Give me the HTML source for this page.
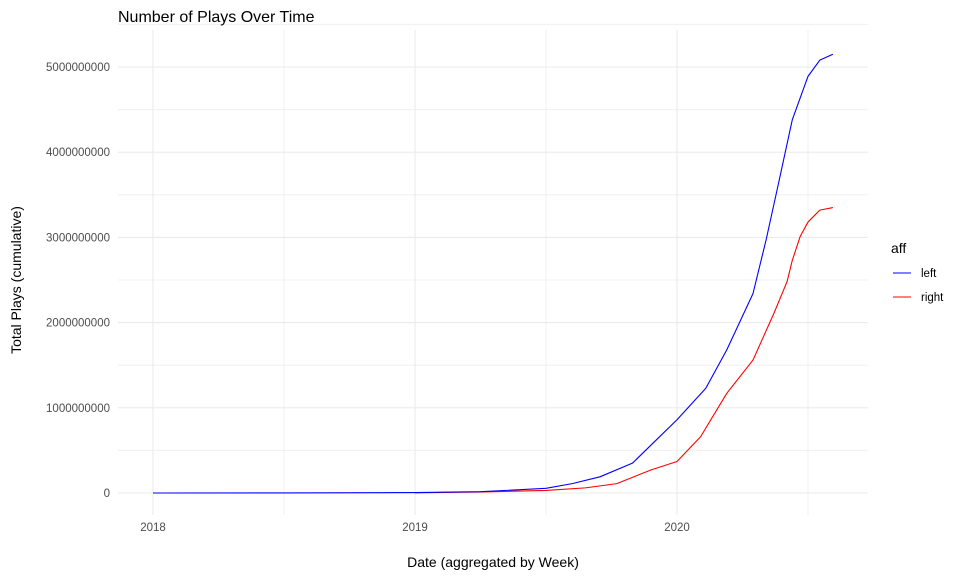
<!DOCTYPE html>
<html><head><meta charset="utf-8"><style>
body{margin:0;background:#fff;font-family:"Liberation Sans",sans-serif}
svg text{font-family:"Liberation Sans",sans-serif}
</style></head><body>
<svg id="c" width="960" height="576"></svg>
<script>
const years=[2018,2019,2020];
const yTicks=[0,1e9,2e9,3e9,4e9,5e9];
const yTickLabels=["0","1000000000","2000000000","3000000000","4000000000","5000000000"];
const leftDates=[2018.0,2018.5,2019.0,2019.25,2019.5,2019.6,2019.706,2019.83,2019.92,2020.0,2020.11,2020.19,2020.29,2020.34,2020.39,2020.44,2020.5,2020.545,2020.595];
const leftVals=[0,0.001,0.005,0.015,0.055,0.11,0.19,0.35,0.62,0.86,1.23,1.68,2.34,2.97,3.67,4.38,4.89,5.08,5.15];
const rightDates=[2019.0,2019.25,2019.5,2019.65,2019.77,2019.9,2020.0,2020.09,2020.19,2020.29,2020.37,2020.42,2020.44,2020.47,2020.5,2020.545,2020.595];
const rightVals=[0.002,0.012,0.03,0.06,0.11,0.27,0.37,0.66,1.17,1.56,2.11,2.48,2.73,3.01,3.18,3.32,3.35];
const NS="http://www.w3.org/2000/svg";
const svg=document.getElementById('c');
const X=d=>153+(d-2018)*262;
const Y=v=>493-v/1e9*85.2;
function mk(tag,attrs,parent){const e=document.createElementNS(NS,tag);for(const k in attrs)e.setAttribute(k,attrs[k]);(parent||svg).appendChild(e);return e;}
for(let i=0;i<yTicks.length;i++){const v=yTicks[i]+5e8;
  const g=mk('line',{x1:118,x2:868,y1:Y(v),y2:Y(v),stroke:'#f0f0f0','stroke-width':1});
  
  }
for(const yr of [2018.5,2019.5,2020.5]){const g=mk('line',{x1:X(yr),x2:X(yr),y1:30,y2:515,stroke:'#f0f0f0','stroke-width':1});
  
  }
yTicks.forEach((v,i)=>{const g=mk('line',{x1:118,x2:868,y1:Y(v),y2:Y(v),stroke:'#ebebeb','stroke-width':1.1});
  
  
  const t=mk('text',{x:110,y:Y(v)+4,'text-anchor':'end','font-size':11.5,fill:'#4d4d4d'});t.textContent=yTickLabels[i];
  
  });
years.forEach(yr=>{const g=mk('line',{x1:X(yr),x2:X(yr),y1:30,y2:515,stroke:'#ebebeb','stroke-width':1.1});
  
  
  const t=mk('text',{x:X(yr),y:531,'text-anchor':'middle','font-size':11.5,fill:'#4d4d4d'});t.textContent=yr;
  
  });
function line(ds,vs,col,name){const p=mk('polyline',{points:ds.map((d,i)=>X(d)+','+Y(vs[i]*1e9)).join(' '),fill:'none',stroke:col,'stroke-width':1.1,'stroke-linejoin':'round'});
  
  }
line(rightDates,rightVals,'#ff0000','line-right');
line(leftDates,leftVals,'#0000ff','line-left');
</script>
<svg width="960" height="576" style="position:absolute;left:0;top:0">
<text x="118" y="22" font-size="16" fill="#000">Number of Plays Over Time</text>
<text x="493" y="567" font-size="14" text-anchor="middle" fill="#000">Date (aggregated by Week)</text>
<text transform="translate(21,280) rotate(-90)" font-size="14" text-anchor="middle" fill="#000">Total Plays (cumulative)</text>
<g>
<text x="891" y="253" font-size="14" fill="#000">aff</text>
<line x1="893" x2="911" y1="273" y2="273" stroke="#0000ff" stroke-width="1.1"/>
<text x="921" y="277" font-size="11.5" fill="#000">left</text>
<line x1="893" x2="911" y1="297" y2="297" stroke="#ff0000" stroke-width="1.1"/>
<text x="921" y="301" font-size="11.5" fill="#000">right</text>
</g>
</svg>
</body></html>
